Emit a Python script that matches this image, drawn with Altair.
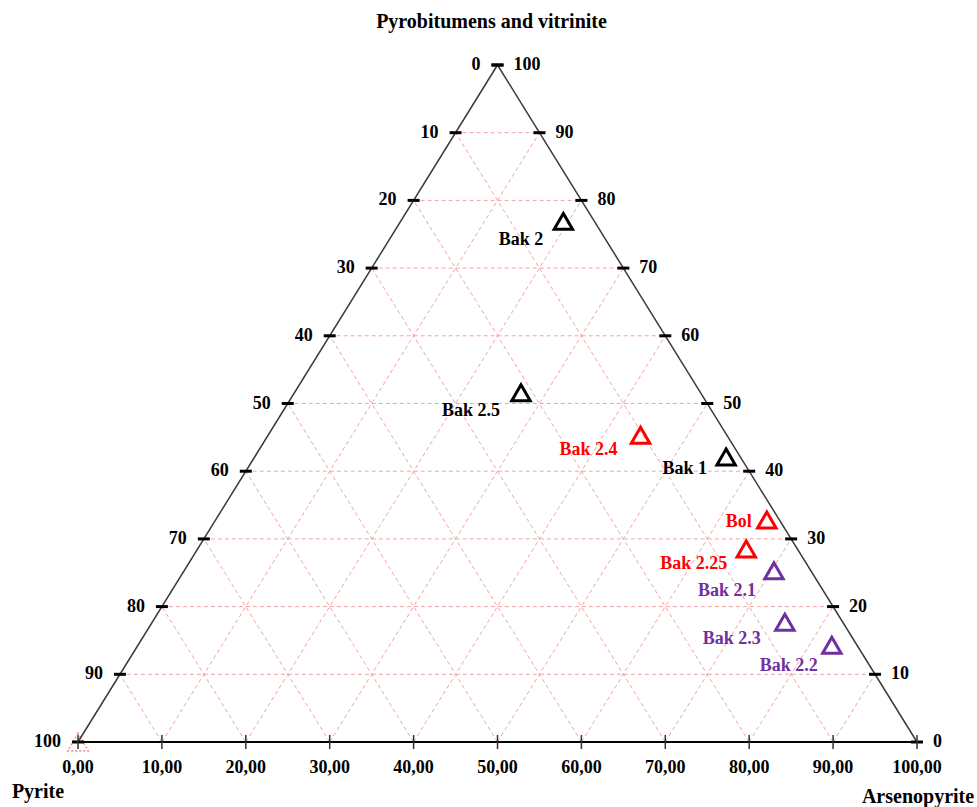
import altair as alt
import pandas as pd

# --- sample compositions (%), one entry per sample ---------------------------
SAMPLES = ["Bak 2", "Bak 2.5", "Bak 2.4", "Bak 1", "Bol",
           "Bak 2.25", "Bak 2.1", "Bak 2.3", "Bak 2.2"]
PYROBITUMENS = [76.9, 51.6, 45.3, 42.1, 32.8, 28.5, 25.3, 17.7, 14.3]
ARSENOPYRITE = [19.4, 27.0, 44.4, 56.2, 65.7, 65.4, 70.3, 75.4, 82.7]
PYRITE = [3.7, 21.4, 10.3, 1.7, 1.5, 6.1, 4.4, 6.9, 3.0]
GROUP = ["I", "I", "II", "I", "II", "II", "III", "III", "III"]

# faint reference symbol sitting on the pure-pyrite corner
CORNER_PYRO = [0.0]
CORNER_ARSENO = [0.0]
CORNER_PYRITE = [100.0]

# --- axis ticks and labels ---------------------------------------------------
GRID_LEVELS = [10, 20, 30, 40, 50, 60, 70, 80, 90]
TICK_LEVELS = [0, 10, 20, 30, 40, 50, 60, 70, 80, 90, 100]
LEFT_LABELS = ["100", "90", "80", "70", "60", "50", "40", "30", "20", "10", "0"]
RIGHT_LABELS = ["0", "10", "20", "30", "40", "50", "60", "70", "80", "90", "100"]
BOTTOM_LABELS = ["0,00", "10,00", "20,00", "30,00", "40,00", "50,00",
                 "60,00", "70,00", "80,00", "90,00", "100,00"]

# --- styling -------------------------------------------------------------------
FONT = "Liberation Serif"
GROUP_COLORS = {"I": "#000000", "II": "#ff0000", "III": "#7030a0"}
GRID_COLOR = "#f0a4a4"
# label nudges in pixels (text is right-aligned against the symbol)
LABEL_NUDGE = {
    "Bak 2": (-20, 19), "Bak 2.5": (-21, 18), "Bak 2.4": (-23, 15),
    "Bak 1": (-19, 12), "Bol": (-15, 2), "Bak 2.25": (-19, 15),
    "Bak 2.1": (-18, 20), "Bak 2.3": (-24, 17), "Bak 2.2": (-14, 21),
}

W, H = 977, 807
X_SCALE = alt.Scale(domain=[0, 100], range=[78, 917], nice=False, zero=False)
Y_SCALE = alt.Scale(domain=[0, 100], range=[742, 65], nice=False, zero=False)


def X(field="x"):
    return alt.X(f"{field}:Q", scale=X_SCALE, axis=None)


def Y(field="y"):
    return alt.Y(f"{field}:Q", scale=Y_SCALE, axis=None)


# --- samples table -------------------------------------------------------------
samples = pd.DataFrame({
    "sample": SAMPLES, "pyro": PYROBITUMENS, "arseno": ARSENOPYRITE,
    "pyrite": PYRITE, "group": GROUP,
})
# ternary composition -> cartesian percent coordinates
sample_xy = dict(
    total="datum.pyro + datum.arseno + datum.pyrite",
    p="100 * datum.pyro / datum.total",
    a="100 * datum.arseno / datum.total",
    x="datum.a + datum.p / 2",
    y="datum.p",
)

# --- grid segments parallel to the three sides -----------------------------------
seg_rows = []
for k in GRID_LEVELS:
    seg_rows.append(dict(a1=0, p1=k, a2=100 - k, p2=k))        # constant pyrobitumens
    seg_rows.append(dict(a1=k, p1=0, a2=k, p2=100 - k))        # constant arsenopyrite
    seg_rows.append(dict(a1=100 - k, p1=0, a2=0, p2=100 - k))  # constant pyrite
grid = pd.DataFrame(seg_rows)

seg_calc = dict(
    x="datum.a1 + datum.p1 / 2", y="datum.p1",
    xe="datum.a2 + datum.p2 / 2", ye="datum.p2",
)

grid_layer = alt.Chart(grid).transform_calculate(**seg_calc).mark_rule(
    color=GRID_COLOR, strokeWidth=1, strokeDash=[4, 3]
).encode(x=X(), y=Y(), x2="xe:Q", y2="ye:Q")

# --- triangle frame ------------------------------------------------------------------
sides = pd.DataFrame([
    dict(a1=0, p1=0, a2=0, p2=100),
    dict(a1=100, p1=0, a2=0, p2=100),
])
bottom = pd.DataFrame([dict(a1=0, p1=0, a2=100, p2=0)])

sides_layer = alt.Chart(sides).transform_calculate(**seg_calc).mark_rule(
    color="#3a3a3a", strokeWidth=1.5
).encode(x=X(), y=Y(), x2="xe:Q", y2="ye:Q")

bottom_layer = alt.Chart(bottom).transform_calculate(**seg_calc).mark_rule(
    color="#000000", strokeWidth=2
).encode(x=X(), y=Y(), x2="xe:Q", y2="ye:Q")

# --- ticks and tick labels ---------------------------------------------------------
left_df = pd.DataFrame({"p": TICK_LEVELS, "label": LEFT_LABELS})
right_df = pd.DataFrame({"p": TICK_LEVELS, "label": RIGHT_LABELS})
bottom_df = pd.DataFrame({"a": TICK_LEVELS, "label": BOTTOM_LABELS})

left_base = alt.Chart(left_df).transform_calculate(x="datum.p / 2", y="datum.p")
right_base = alt.Chart(right_df).transform_calculate(x="100 - datum.p / 2", y="datum.p")
bottom_base = alt.Chart(bottom_df).transform_calculate(x="datum.a", y="0")

left_ticks = left_base.mark_tick(orient="horizontal", size=12, thickness=3,
                                 color="#000000", opacity=1).encode(x=X(), y=Y())
right_ticks = right_base.mark_tick(orient="horizontal", size=12, thickness=3,
                                   color="#000000", opacity=1).encode(x=X(), y=Y())
bottom_ticks = bottom_base.mark_tick(orient="vertical", size=14, thickness=1.5,
                                     color="#333333", opacity=1).encode(x=X(), y=Y())

tick_text = dict(font=FONT, fontSize=18, fontWeight="bold", color="#000000",
                 baseline="middle")
left_labels = left_base.mark_text(align="right", dx=-17, **tick_text).encode(
    x=X(), y=Y(), text="label:N")
right_labels = right_base.mark_text(align="left", dx=16, **tick_text).encode(
    x=X(), y=Y(), text="label:N")
bottom_labels = bottom_base.mark_text(align="center", dy=26, **tick_text).encode(
    x=X(), y=Y(), text="label:N")

# --- corner titles -------------------------------------------------------------------
title_text = dict(font=FONT, fontSize=20, fontWeight="bold", color="#000000",
                  baseline="middle", align="center")
corners = [
    ("Pyrobitumens and vitrinite", 0, 100, -6, -43),
    ("Pyrite", 0, 0, -40, 50),
    ("Arsenopyrite", 100, 0, 1, 55),
]
title_layers = []
for name, a, p, dx, dy in corners:
    df = pd.DataFrame({"a": [a], "p": [p], "label": [name]})
    title_layers.append(
        alt.Chart(df).transform_calculate(x="datum.a + datum.p / 2", y="datum.p")
        .mark_text(dx=dx, dy=dy, **title_text)
        .encode(x=X(), y=Y(), text="label:N")
    )

# --- sample symbols and names --------------------------------------------------------
color_scale = alt.Scale(domain=list(GROUP_COLORS.keys()),
                        range=list(GROUP_COLORS.values()))

points = alt.Chart(samples).transform_calculate(**sample_xy).mark_point(
    shape="triangle-up", size=340, strokeWidth=3, filled=False, opacity=1
).encode(x=X(), y=Y(), color=alt.Color("group:N", scale=color_scale, legend=None))

corner_df = pd.DataFrame({"pyro": CORNER_PYRO, "arseno": CORNER_ARSENO,
                          "pyrite": CORNER_PYRITE})
corner_point = alt.Chart(corner_df).transform_calculate(**sample_xy).mark_point(
    shape="triangle-up", size=420, strokeWidth=1.6, filled=False,
    color="#eb9a9a", strokeDash=[2, 2], opacity=1
).encode(x=X(), y=Y())

name_layers = []
for name in SAMPLES:
    dx, dy = LABEL_NUDGE[name]
    name_layers.append(
        alt.Chart(samples).transform_filter(alt.datum.sample == name)
        .transform_calculate(**sample_xy)
        .mark_text(align="right", baseline="middle", dx=dx, dy=dy,
                   font=FONT, fontSize=18, fontWeight="bold")
        .encode(x=X(), y=Y(), text="sample:N",
                color=alt.Color("group:N", scale=color_scale, legend=None))
    )

chart = alt.layer(
    grid_layer, corner_point, sides_layer, bottom_layer,
    left_ticks, right_ticks, bottom_ticks,
    left_labels, right_labels, bottom_labels,
    *title_layers, points, *name_layers,
).properties(
    width=W, height=H, padding=0, background="#ffffff",
    autosize=alt.AutoSizeParams(type="none"),
).configure_view(stroke=None)

chart.save("out.html", embed_options={"renderer": "svg", "actions": False})
